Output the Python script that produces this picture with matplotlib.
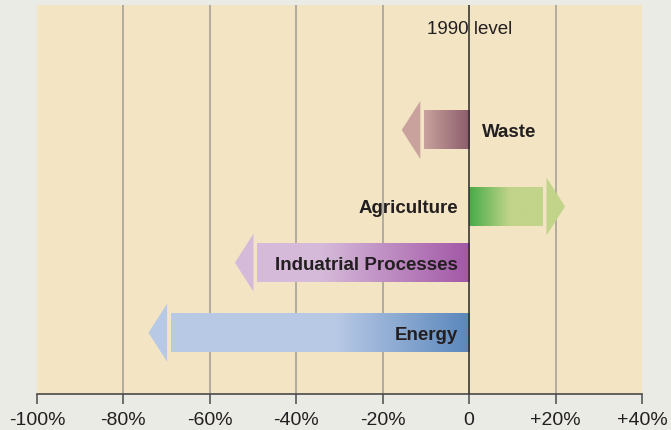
import matplotlib.pyplot as plt
import numpy as np
from matplotlib.colors import LinearSegmentedColormap
from matplotlib.patches import Polygon

# change in emissions vs 1990 level (%)
sectors = ["Waste", "Agriculture", "Induatrial Processes", "Energy"]
changes = [-10.5, 17.1, -49.1, -69.1]
tick_vals = [-100, -80, -60, -40, -20, 0, 20, 40]
tick_labels = ["-100%", "-80%", "-60%", "-40%", "-20%", "0", "+20%", "+40%"]

# colours: (light end, dark end at zero line)
light_cols = ["#c9a29d", "#c1d48a", "#d6bada", "#b8c9e5"]
dark_cols = ["#8a5c6b", "#47ab47", "#a257a6", "#5a87bc"]
grad_start = [0.999, 0.55, 0.7, 0.45]  # fraction of bar (from zero) where light colour is reached

# layout (vertical positions in pixel-like units, top = 6, bottom = 395)
row_y = [131, 207.5, 263.7, 333.7]
bar_h = 39
head_h = 58
head_len = 4.3
gap = 0.8

plt.rcParams["font.family"] = ["Liberation Sans", "DejaVu Sans"]

fig = plt.figure(figsize=(6.71, 4.31), dpi=100, facecolor="#ebebe5")
ax = fig.add_axes([37 / 671, (431 - 395) / 431, (642 - 37) / 671, (395 - 6) / 431])
ax.set_facecolor("#f3e5c4")
ax.set_xlim(-100, 40)
ax.set_ylim(395, 6)

for v in tick_vals:
    if v in (-100, 40):
        continue
    if v == 0:
        ax.axvline(0, color="#2a2a2a", lw=1.1, zorder=3)
    else:
        ax.axvline(v, color="#a09c94", lw=1.1, zorder=1)

for i, (name, val) in enumerate(zip(sectors, changes)):
    y = row_y[i]
    s = np.sign(val)
    # gradient bar: dark at zero line, light towards the tip
    cmap = LinearSegmentedColormap.from_list(
        f"g{i}", [(0, dark_cols[i]), (grad_start[i], light_cols[i]), (1, light_cols[i])]
    )
    grad = np.linspace(0, 1, 256).reshape(1, -1)
    if val < 0:
        grad = grad[:, ::-1]
    x0, x1 = min(0, val), max(0, val)
    ax.imshow(grad, cmap=cmap, extent=(x0, x1, y + bar_h / 2, y - bar_h / 2),
              aspect="auto", zorder=2, interpolation="bilinear")
    # arrow head
    base = val + s * gap
    tip = base + s * head_len
    head = Polygon([(base, y - head_h / 2), (base, y + head_h / 2), (tip, y)],
                   closed=True, facecolor=light_cols[i], edgecolor="none", zorder=2)
    ax.add_patch(head)

    # labels
    if name == "Waste":
        ax.text(2.9, y + 1.5, name, ha="left", va="center", fontsize=13.5,
                fontweight="bold", color="#231f20", zorder=4)
    else:
        ax.text(-2.6, y + 1.5, name, ha="right", va="center", fontsize=13.5,
                fontweight="bold", color="#231f20", zorder=4)

ax.text(0, 29, "1990 level", ha="center", va="center", fontsize=13.5, color="#231f20")

ax.set_xticks(tick_vals)
ax.set_xticklabels(tick_labels, fontsize=14, color="#231f20")
ax.set_yticks([])
for sp in ["left", "right", "top"]:
    ax.spines[sp].set_visible(False)
ax.spines["bottom"].set_color("#4a4a4a")
ax.spines["bottom"].set_linewidth(1.2)
ax.tick_params(axis="x", direction="out", length=7, width=1.1, color="#4a4a4a", pad=5)

fig.savefig("out.png", dpi=100, facecolor=fig.get_facecolor())
